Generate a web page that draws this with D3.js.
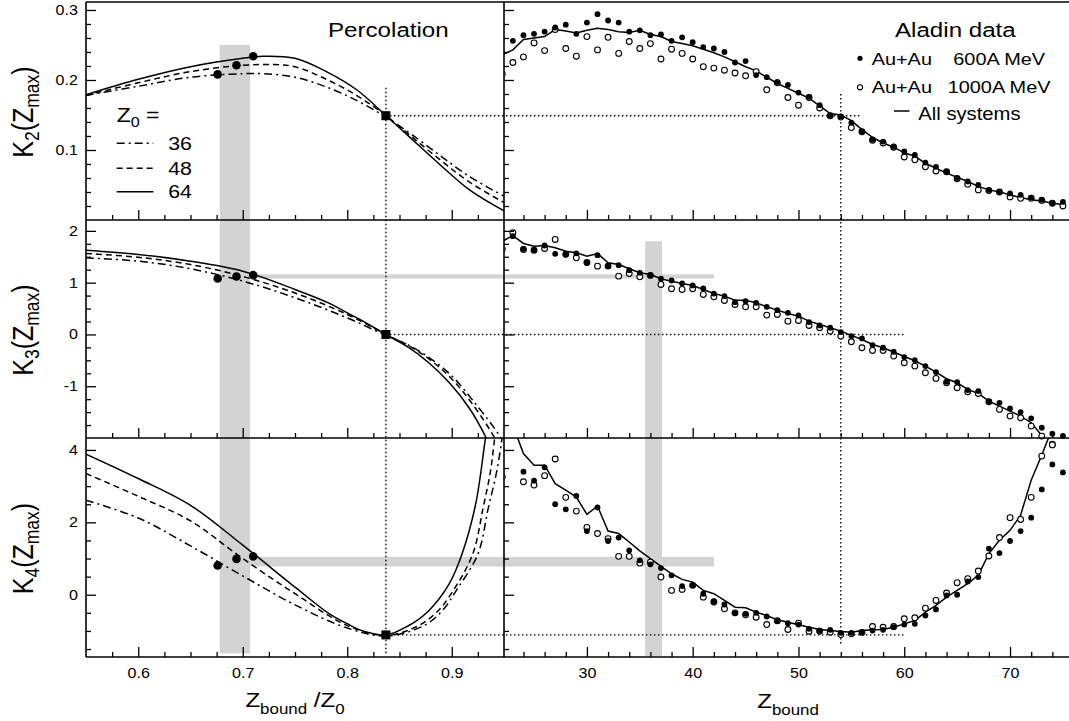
<!DOCTYPE html>
<html><head><meta charset="utf-8">
<script src="https://cdn.jsdelivr.net/npm/d3@7"></script>
<style>body{margin:0;background:#fff}svg{display:block}</style>
</head><body>
<svg id="c" width="1069" height="721"></svg>
<script>
// ---------------- DATA ----------------
const Zbound = [22,23,24,25,26,27,28,29,30,31,32,33,34,35,36,37,38,39,40,41,42,43,44,45,46,47,48,49,50,51,52,53,54,55,56,57,58,59,60,61,62,63,64,65,66,67,68,69,70,71,72,73,74,75];

const K2_600 = [null,0.256,0.264,0.266,0.269,0.275,0.279,0.266,0.282,0.294,
 0.285,0.282,0.269,0.271,0.264,0.265,0.256,0.261,0.254,0.247,
 0.245,0.240,0.225,0.227,0.207,0.204,0.197,0.193,0.182,0.176,
 0.164,0.149,0.148,0.139,0.126,0.115,0.112,0.105,0.098,0.093,
 0.082,0.076,0.069,0.060,0.055,0.050,0.043,0.040,0.038,0.036,
 0.032,0.029,0.024,0.026];
const K2_1000 = [0.209,0.225,0.233,0.253,0.242,0.272,0.245,0.234,0.262,0.243,
 0.261,0.238,0.255,0.245,0.252,0.230,0.244,0.238,0.230,0.219,
 0.217,0.214,0.210,0.206,0.212,0.186,0.196,0.175,0.164,0.175,
 0.160,0.149,0.147,0.132,0.126,0.114,0.110,0.104,0.090,0.086,
 0.076,0.070,0.069,0.059,0.051,0.043,0.042,0.040,0.033,0.031,
 0.031,0.028,0.024,0.020];
const K2_all = [0.236,0.243,0.258,0.260,0.262,0.272,0.270,0.267,0.271,0.274,
 0.272,0.269,0.268,0.271,0.265,0.262,0.255,0.252,0.249,0.244,
 0.239,0.233,0.226,0.219,0.213,0.204,0.195,0.188,0.181,0.174,
 0.163,0.152,0.150,0.142,0.129,0.118,0.110,0.104,0.096,0.091,
 0.081,0.074,0.067,0.061,0.055,0.048,0.043,0.040,0.036,0.032,
 0.029,0.027,0.024,0.022];

const K3_600 = [null,1.898,1.654,1.627,1.718,1.557,1.544,1.564,1.384,1.531,
 1.319,1.338,1.241,1.19,1.139,1.075,1.042,0.985,0.946,0.888,
 0.79,0.74,0.624,0.643,0.611,0.534,0.469,0.418,0.367,0.238,
 0.174,0.129,0.045,-0.032,-0.077,-0.206,-0.257,-0.334,-0.438,-0.496,
 -0.611,-0.727,-0.914,-0.92,-1.075,-1.094,-1.30,-1.32,-1.43,-1.50,
 -1.62,-1.80,-1.917,-1.96];
const K3_1000 = [1.65,1.963,1.64,1.627,1.66,1.834,1.55,1.48,1.39,1.319,
 1.32,1.126,1.178,1.113,1.14,0.965,0.882,0.869,0.882,0.772,
 0.727,0.656,0.579,0.534,0.534,0.373,0.386,0.257,0.27,0.174,
 0.129,0.064,-0.032,-0.141,-0.257,-0.309,-0.309,-0.418,-0.547,-0.611,
 -0.74,-0.849,-0.933,-1.03,-1.107,-1.14,-1.30,-1.448,-1.577,-1.609,
 -1.77,-1.963,-2.12,null];
const K3_all = [1.80,1.91,1.757,1.705,1.718,1.673,1.608,1.577,1.512,1.564,
 1.384,1.351,1.268,1.19,1.158,1.075,1.029,0.985,0.946,0.869,
 0.79,0.74,0.662,0.662,0.611,0.534,0.469,0.405,0.354,0.257,
 0.193,0.129,0.064,-0.019,-0.097,-0.193,-0.257,-0.34,-0.425,-0.508,
 -0.611,-0.727,-0.855,-0.933,-1.062,-1.14,-1.287,-1.384,-1.48,-1.577,
 -1.705,-1.95,-2.2,-2.4];

const K4_600 = [null,null,3.40,3.15,3.52,2.50,2.36,2.73,1.76,2.41,
 1.485,1.58,1.227,0.95,0.84,0.737,0.535,0.238,0.265,0.028,
 -0.177,-0.269,-0.509,-0.527,-0.499,-0.601,-0.731,-0.786,-0.823,-0.942,
 -0.989,-0.97,-1.053,-1.053,-1.035,-0.99,-0.97,-0.896,-0.823,-0.804,
 -0.573,-0.407,-0.019,0.0,0.368,0.488,1.274,1.152,1.485,1.76,
 2.13,2.91,3.60,3.38];
const K4_1000 = [3.26,null,3.12,3.03,3.29,3.75,2.69,2.31,1.86,1.69,
 1.55,1.06,1.06,0.875,0.90,0.488,0.12,0.147,0.26,-0.066,
 -0.2,-0.388,-0.5,-0.554,-0.62,-0.823,-0.72,-0.96,-0.786,-1.008,
 -1.008,-1.035,-1.10,-1.08,-1.04,-0.878,-0.90,-0.878,-0.665,-0.637,
 -0.371,-0.158,0.046,0.332,0.443,0.654,1.07,1.58,2.13,2.08,
 2.69,3.83,4.14,null];
const K4_all = [4.6,4.68,3.9,3.58,3.58,3.07,2.89,2.70,2.22,2.45,
 1.76,1.69,1.457,1.21,0.997,0.784,0.58,0.424,0.35,0.119,
 0.028,-0.158,-0.343,-0.36,-0.48,-0.573,-0.693,-0.758,-0.83,-0.896,
 -0.96,-0.989,-1.017,-1.035,-0.99,-0.97,-0.96,-0.896,-0.804,-0.712,
 -0.48,-0.296,-0.066,0.119,0.305,0.535,1.136,1.504,1.78,2.197,
 3.166,3.86,4.6,5.0];

// Percolation curves  [Zbound/Z0, K]
const perc_K2_36 = [[0.55,0.178],[0.60,0.191],[0.65,0.204],[0.70,0.209],[0.72,0.209],[0.75,0.204],[0.78,0.19],[0.81,0.17],[0.837,0.147],[0.86,0.124],[0.888,0.093],[0.917,0.062],[0.95,0.034]];
const perc_K2_48 = [[0.55,0.178],[0.60,0.196],[0.65,0.212],[0.70,0.221],[0.73,0.222],[0.75,0.219],[0.78,0.201],[0.81,0.177],[0.837,0.149],[0.86,0.121],[0.888,0.087],[0.917,0.054],[0.95,0.025]];
const perc_K2_64 = [[0.55,0.179],[0.60,0.201],[0.65,0.219],[0.70,0.231],[0.72,0.234],[0.75,0.231],[0.78,0.212],[0.81,0.185],[0.837,0.149],[0.86,0.118],[0.888,0.080],[0.917,0.043],[0.95,0.013]];
const perc_K3_36 = [[0.55,1.48],[0.60,1.415],[0.65,1.268],[0.70,1.03],[0.75,0.708],[0.80,0.32],[0.837,-0.02],[0.86,-0.22],[0.88,-0.47],[0.90,-0.80],[0.92,-1.27],[0.947,-2.0],[0.951,-2.2]];
const perc_K3_48 = [[0.55,1.564],[0.60,1.49],[0.65,1.35],[0.70,1.12],[0.75,0.80],[0.80,0.386],[0.837,0.0],[0.86,-0.23],[0.88,-0.50],[0.90,-0.86],[0.92,-1.35],[0.941,-2.0],[0.945,-2.2]];
const perc_K3_64 = [[0.55,1.627],[0.60,1.545],[0.65,1.415],[0.70,1.222],[0.75,0.869],[0.783,0.6],[0.80,0.418],[0.812,0.29],[0.837,0.0],[0.859,-0.257],[0.878,-0.547],[0.8975,-0.93],[0.9165,-1.415],[0.932,-1.96],[0.936,-2.15]];
const perc_K4_36 = [[0.55,2.61],[0.60,2.12],[0.65,1.35],[0.70,0.52],[0.75,-0.28],[0.80,-0.92],[0.837,-1.14],[0.873,-0.86],[0.891,-0.44],[0.905,0.15],[0.925,1.12],[0.935,2.4],[0.943,3.4],[0.948,4.3],[0.951,5.0]];
const perc_K4_48 = [[0.55,3.35],[0.60,2.72],[0.65,2.04],[0.70,1.0],[0.75,0.03],[0.80,-0.85],[0.837,-1.12],[0.868,-0.86],[0.887,-0.44],[0.90,0.05],[0.92,1.12],[0.93,2.4],[0.937,3.4],[0.941,4.3],[0.944,5.0]];
const perc_K4_64 = [[0.55,3.886],[0.60,3.21],[0.65,2.47],[0.70,1.37],[0.75,0.21],[0.783,-0.53],[0.80,-0.80],[0.812,-0.97],[0.837,-1.11],[0.859,-0.85],[0.878,-0.44],[0.8975,0.30],[0.910,1.14],[0.923,2.52],[0.932,4.27],[0.936,5.0]];

const percDots_K2 = [[0.676,0.208],[0.694,0.221],[0.710,0.234]];
const percDots_K3 = [[0.676,1.08],[0.694,1.12],[0.710,1.145]];
const percDots_K4 = [[0.676,0.81],[0.694,0.99],[0.710,1.06]];
const critX = 0.837;
const critK = [0.149, 0.0, -1.11];

const Z0Labels = ['36','48','64'];
const yTickLabels = [[0.1,0.2,0.3],[-1,0,1,2],[0,2,4]];
const xTickLeft = [0.6,0.7,0.8,0.9];
const xTickRight = [30,40,50,60,70];

// ---------------- LAYOUT ----------------
const svg = d3.select('#c');
const FONT = "'Liberation Sans', Arial, Helvetica, sans-serif";
const X0 = 86, XM = 504, X1 = 1069;
const rows = [[2,220],[220,438],[438,657]];
const xL = d3.scaleLinear().domain([0.55,0.95]).range([X0,XM]);
const xR = d3.scaleLinear().domain([22,76]).range([502.3,1073.5]);
const yS = [
  d3.scaleLinear().domain([0,0.3114]).range([220,2]),
  d3.scaleLinear().domain([-2,2.21]).range([438,220]),
  d3.scaleLinear().domain([-1.72,4.33]).range([657,438])
];
const GRAY = '#d3d3d3';
const dashes = {'36':'8,4,2,4','48':'6,4','64':null};

const defs = svg.append('defs');
rows.forEach((r,i)=>{
  defs.append('clipPath').attr('id','cl'+i).append('rect').attr('x',X0).attr('y',r[0]).attr('width',XM-X0).attr('height',r[1]-r[0]);
  defs.append('clipPath').attr('id','cr'+i).append('rect').attr('x',XM).attr('y',r[0]).attr('width',X1-XM).attr('height',r[1]-r[0]);
});
defs.append('clipPath').attr('id','crAll').append('rect').attr('x',XM+0.5).attr('y',0).attr('width',X1-XM).attr('height',721);

// ---------------- BANDS ----------------
const bands = svg.append('g').attr('fill',GRAY);
bands.append('rect').attr('x',xL(0.678)).attr('width',xL(0.707)-xL(0.678))
  .attr('y',yS[0](0.25)).attr('height',yS[2](-1.62)-yS[0](0.25));
bands.append('rect').attr('x',xL(0.707)).attr('width',xR(42)-xL(0.707))
  .attr('y',yS[1](1.16)).attr('height',yS[1](1.08)-yS[1](1.16));
bands.append('rect').attr('x',xL(0.707)).attr('width',xR(42)-xL(0.707))
  .attr('y',yS[2](1.045)).attr('height',yS[2](0.78)-yS[2](1.045));
bands.append('rect').attr('x',xR(35.5)).attr('width',xR(37.1)-xR(35.5))
  .attr('y',yS[1](1.8)).attr('height',yS[2](-1.69)-yS[1](1.8));

// ---------------- DOTTED ----------------
const dot = svg.append('g').attr('stroke','#000').attr('stroke-width',1.4).attr('stroke-dasharray','1.5,2.5');
dot.append('line').attr('x1',xL(critX)).attr('x2',xL(critX)).attr('y1',yS[0](0.189)).attr('y2',yS[2](-1.68));
dot.append('line').attr('x1',xR(54)).attr('x2',xR(54)).attr('y1',yS[0](0.18)).attr('y2',yS[2](-1.4));
dot.append('line').attr('x1',xL(critX)).attr('x2',xR(55.8)).attr('y1',yS[0](critK[0])).attr('y2',yS[0](critK[0]));
dot.append('line').attr('x1',xL(critX)).attr('x2',xR(60)).attr('y1',yS[1](critK[1])).attr('y2',yS[1](critK[1]));
dot.append('line').attr('x1',xL(critX)).attr('x2',xR(60)).attr('y1',yS[2](critK[2])).attr('y2',yS[2](critK[2]));

// ---------------- PERCOLATION CURVES ----------------
const percSets = [
  {'36':perc_K2_36,'48':perc_K2_48,'64':perc_K2_64},
  {'36':perc_K3_36,'48':perc_K3_48,'64':perc_K3_64},
  {'36':perc_K4_36,'48':perc_K4_48,'64':perc_K4_64}
];
const percDots = [percDots_K2, percDots_K3, percDots_K4];
percSets.forEach((set,i)=>{
  const g = svg.append('g').attr('clip-path',`url(#cl${i})`);
  const line = d3.line().curve(d3.curveCatmullRom.alpha(0.5)).x(d=>xL(d[0])).y(d=>yS[i](d[1]));
  Z0Labels.forEach(k=>{
    g.append('path').attr('d',line(set[k])).attr('fill','none').attr('stroke','#000')
      .attr('stroke-width',1.5).attr('stroke-dasharray',dashes[k]);
  });
  svg.append('g').selectAll('circle').data(percDots[i]).join('circle')
    .attr('cx',d=>xL(d[0])).attr('cy',d=>yS[i](d[1])).attr('r',4.3).attr('fill','#000');
  svg.append('rect').attr('x',xL(critX)-4.5).attr('y',yS[i](critK[i])-4.5).attr('width',9).attr('height',9).attr('fill','#000');
});

// ---------------- ALADIN DATA ----------------
const rightSets = [[K2_600,K2_1000,K2_all],[K3_600,K3_1000,K3_all],[K4_600,K4_1000,K4_all]];
rightSets.forEach((s,i)=>{
  const [f,o,a] = s;
  const line = d3.line().defined(d=>d[1]!=null).x(d=>xR(d[0])).y(d=>yS[i](d[1]));
  svg.append('g').attr('clip-path',`url(#cr${i})`).append('path')
    .attr('d',line(Zbound.map((z,j)=>[z,a[j]]))).attr('fill','none').attr('stroke','#000').attr('stroke-width',1.5);
  const pg = svg.append('g').attr('clip-path','url(#crAll)');
  pg.selectAll('circle.o').data(Zbound.map((z,j)=>[z,o[j]]).filter(d=>d[1]!=null)).join('circle')
    .attr('class','o').attr('cx',d=>xR(d[0])).attr('cy',d=>yS[i](d[1])).attr('r',2.9)
    .attr('fill','#fff').attr('stroke','#000').attr('stroke-width',1.1);
  pg.selectAll('circle.f').data(Zbound.map((z,j)=>[z,f[j]]).filter(d=>d[1]!=null)).join('circle')
    .attr('class','f').attr('cx',d=>xR(d[0])).attr('cy',d=>yS[i](d[1])).attr('r',2.9).attr('fill','#000');
});

// ---------------- FRAME & AXES ----------------
const frame = svg.append('g').attr('stroke','#000').attr('stroke-width',1.6);
[2,220,438,657].forEach(y=>frame.append('line').attr('x1',X0).attr('x2',X1).attr('y1',y).attr('y2',y));
[X0,XM].forEach(x=>frame.append('line').attr('x1',x).attr('x2',x).attr('y1',2).attr('y2',657));

function stretchTexts(g){
  g.selectAll('text').each(function(){
    const t = d3.select(this);
    const x = +t.attr('x') || 0, y = +t.attr('y') || 0;
    t.attr('x',0).attr('y',0).attr('transform',`translate(${x},${y}) scale(1.15,1)`);
  });
}
function styleAxis(g){
  g.select('.domain').remove();
  g.attr('font-size',14).attr('font-family',FONT);
  g.selectAll('line').attr('stroke-width',1.3);
  g.selectAll('text').attr('fill','#000');
}
const minorRange = (a,b,s,maj)=>d3.range(a,b+s/2,s).map(v=>+v.toFixed(4)).filter(v=>!maj.some(m=>Math.abs(m-v)<1e-6));
const yMinor = [minorRange(0.02,0.30,0.02,yTickLabels[0]), minorRange(-1.75,2,0.25,yTickLabels[1]), minorRange(-1.5,4,0.5,yTickLabels[2])];
const xMinorL = minorRange(0.575,0.925,0.025,xTickLeft);
const xMinorR = minorRange(24,74,2,xTickRight);

rows.forEach((r,i)=>{
  // y axes (left, labelled)
  const ya = svg.append('g').attr('transform',`translate(${X0},0)`)
    .call(d3.axisLeft(yS[i]).tickValues(yTickLabels[i]).tickSize(-10).tickPadding(8).tickFormat(d=>String(d)));
  styleAxis(ya); stretchTexts(ya);
  svg.append('g').attr('transform',`translate(${X0},0)`)
    .call(d3.axisLeft(yS[i]).tickValues(yMinor[i]).tickSize(-5).tickFormat('')).call(styleAxis);
  // y axes (right panel, unlabeled)
  svg.append('g').attr('transform',`translate(${XM},0)`)
    .call(d3.axisLeft(yS[i]).tickValues(yTickLabels[i]).tickSize(-10).tickFormat('')).call(styleAxis);
  svg.append('g').attr('transform',`translate(${XM},0)`)
    .call(d3.axisLeft(yS[i]).tickValues(yMinor[i]).tickSize(-5).tickFormat('')).call(styleAxis);
  // x axes
  const last = i===2;
  const xa = svg.append('g').attr('transform',`translate(0,${r[1]})`)
    .call(d3.axisBottom(xL).tickValues(xTickLeft).tickSize(-10).tickPadding(11).tickFormat(last?d3.format('.1f'):''));
  styleAxis(xa); stretchTexts(xa);
  svg.append('g').attr('transform',`translate(0,${r[1]})`)
    .call(d3.axisBottom(xL).tickValues(xMinorL).tickSize(-5).tickFormat('')).call(styleAxis);
  const xb = svg.append('g').attr('transform',`translate(0,${r[1]})`)
    .call(d3.axisBottom(xR).tickValues(xTickRight).tickSize(-10).tickPadding(11).tickFormat(last?d3.format('d'):''));
  styleAxis(xb); stretchTexts(xb);
  svg.append('g').attr('transform',`translate(0,${r[1]})`)
    .call(d3.axisBottom(xR).tickValues(xMinorR).tickSize(-5).tickFormat('')).call(styleAxis);
});

// ---------------- TEXT ----------------
function label(x,y,anchor,size,parts,rot){
  const t = svg.append('text')
    .attr('transform',`translate(${x},${y}) scale(1.15,1)`+(rot?` rotate(${rot})`:''))
    .attr('text-anchor',anchor).attr('font-size',size).attr('font-family',FONT).attr('fill','#000');
  let shift = 0;
  parts.forEach(p=>{
    const ts = t.append('tspan').text(p[0]);
    if (p[1]) { ts.attr('font-size',size*0.7).attr('dy',p[1]-shift); shift = p[1]; }
    else if (shift) { ts.attr('dy',-shift); shift = 0; }
  });
  return t;
}
const yLabelSub = ['2','3','4'];
rows.forEach((r,i)=>{
  label(33,(r[0]+r[1])/2+1,'middle',25,[['K'],[yLabelSub[i],5],['(Z'],['max',5],[')']],-90);
});
label(295,707,'middle',21,[['Z'],['bound',7],[' /Z'],['0',7]]);
label(788,708,'middle',21,[['Z'],['bound',7]]);

label(328,36.7,'start',21,[['Percolation']]);
label(895,36.7,'start',21,[['Aladin data']]);
label(871.7,65,'start',17.3,[['Au+Au']]);
label(953.3,65,'start',17.3,[['600A MeV']]);
label(871.7,93.3,'start',17.3,[['Au+Au']]);
label(947.7,93.3,'start',17.3,[['1000A MeV']]);
label(918.3,120,'start',17.6,[['All systems']]);
svg.append('circle').attr('cx',860).attr('cy',58.3).attr('r',2.6).attr('fill','#000');
svg.append('circle').attr('cx',860).attr('cy',87.3).attr('r',2.6).attr('fill','#fff').attr('stroke','#000').attr('stroke-width',1.1);
svg.append('line').attr('x1',894).attr('x2',909.5).attr('y1',111).attr('y2',111).attr('stroke','#000').attr('stroke-width',1.5);

// Z0 legend
label(116.7,121.7,'start',20,[['Z'],['0',5],[' =']]);
const legY = [143.3,168.3,191.7];
Z0Labels.forEach((k,j)=>{
  svg.append('line').attr('x1',116.7).attr('x2',153.3).attr('y1',legY[j]).attr('y2',legY[j])
    .attr('stroke','#000').attr('stroke-width',1.5).attr('stroke-dasharray',dashes[k]);
  label(168.3,legY[j]+6.5,'start',18.5,[[k]]);
});
</script>
</body></html>
